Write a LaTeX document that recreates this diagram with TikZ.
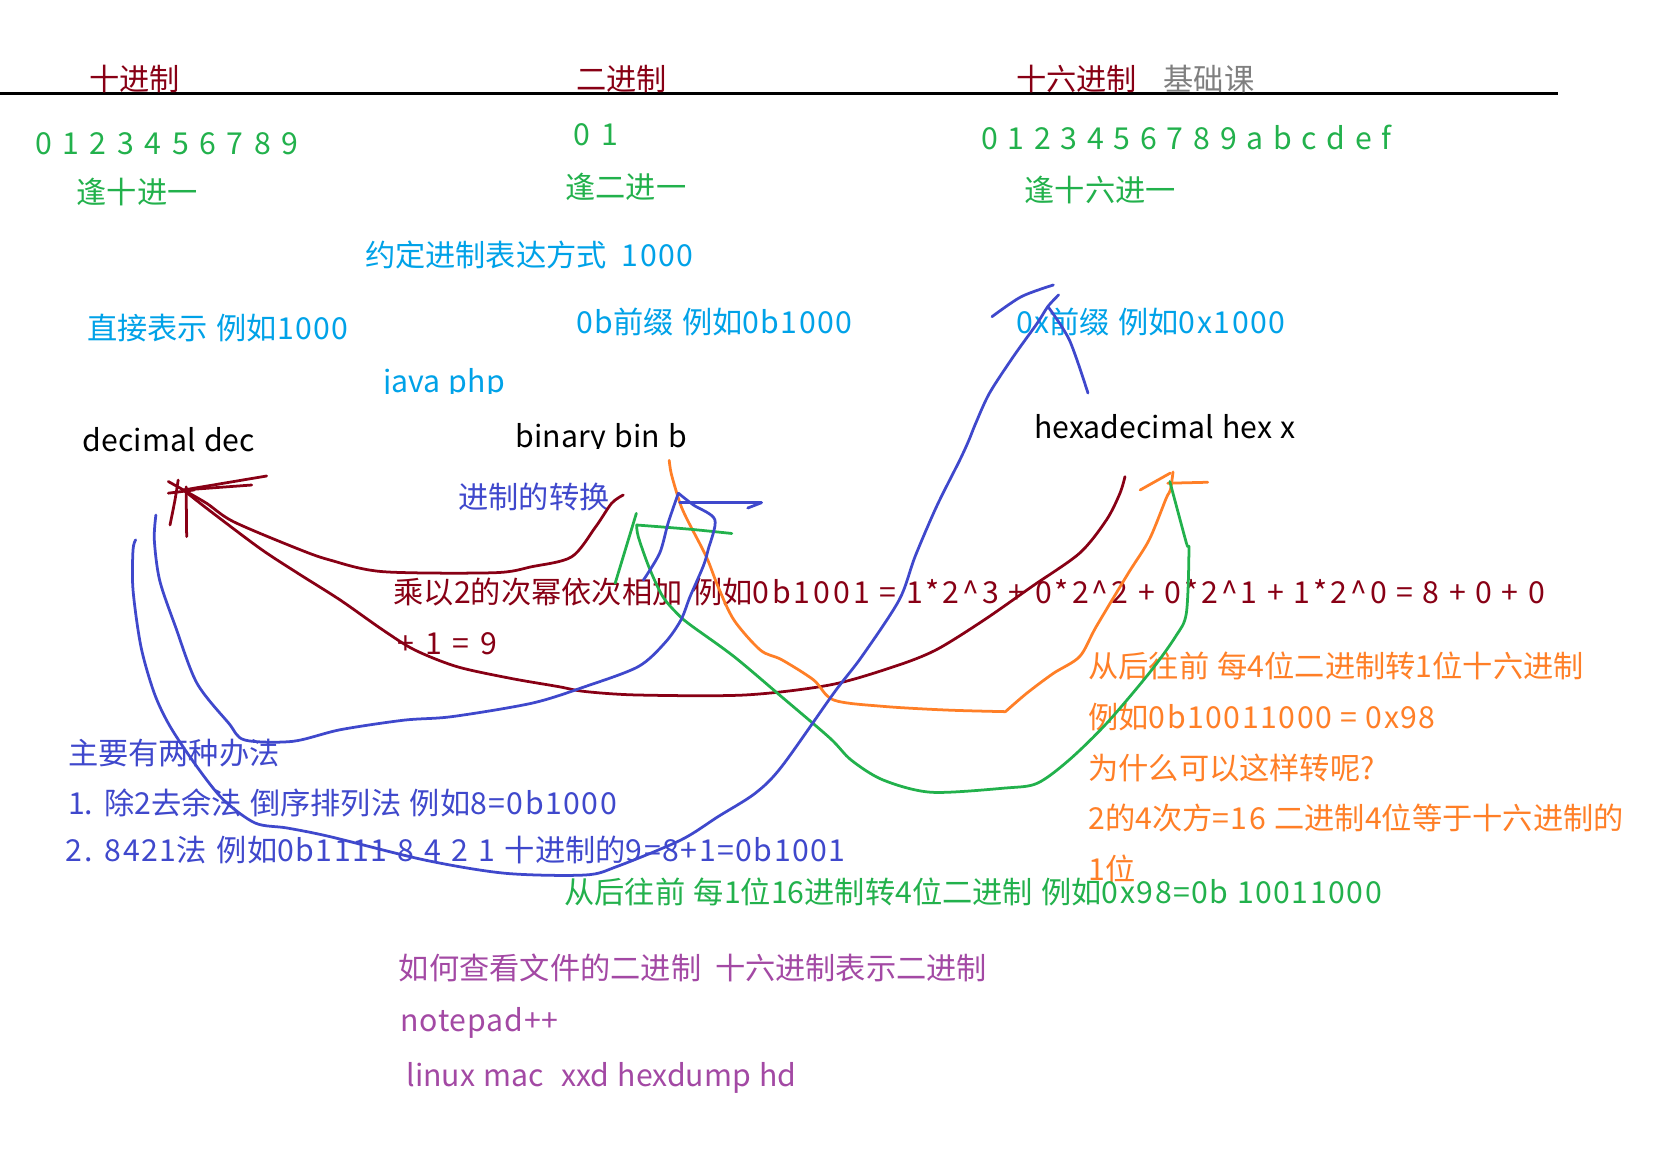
\documentclass[tikz,border=0pt]{standalone}
\usepackage{fontspec}
\setmainfont{Noto Sans CJK SC}
\definecolor{dred}{HTML}{880015}
\definecolor{gry}{HTML}{7F7F7F}
\definecolor{grn}{HTML}{22B14C}
\definecolor{cyn}{HTML}{00A2E8}
\definecolor{ind}{HTML}{3F48CC}
\definecolor{org}{HTML}{FF7F27}
\definecolor{pur}{HTML}{A349A4}
\newcommand\fsz{\fontsize{28.5}{34}\selectfont\spaceskip=8pt\relax}
\newcommand\dg[1]{{\addfontfeature{LetterSpace=5}#1}}
\newcommand\dgw[1]{{\addfontfeature{LetterSpace=10}#1}}
\tikzset{
  txt/.style={anchor=base west, inner sep=0pt, font=\fsz},
  stroke/.style={line width=2.6pt, line cap=round, line join=round},
}
\begin{document}
\begin{tikzpicture}[x=1pt,y=-1pt]
\useasboundingbox[fill=white] (0,0) rectangle (1568,1087);
% header
\coordinate (hl) at (0,88);
\coordinate (hr) at (1469,88);
\draw[line width=2.6pt] (hl) -- (hr);
\node[txt,dred] (h10) at (84,85.5) {十进制};
\node[txt,dred] (h2) at (543,85.5) {二进制};
\node[txt,dred] (h16) at (958,85.5) {十六进制};
\node[txt,gry] (hbase) at (1097,85.5) {基础课};
% green digits
\node[txt,grn] (d10) at (33,146) {\spaceskip=10pt 0 1 2 3 4 5 6 7 8 9};
\node[txt,grn] (r10) at (72,192) {逢十进一};
\node[txt,grn] (d2) at (541,137.5) {\spaceskip=10pt 0 1};
\node[txt,grn] (r2) at (533,187) {逢二进一};
\node[txt,grn] (d16) at (925,141) {\spaceskip=9.2pt 0 1 2 3 4 5 6 7 8 9 a b c d e f};
\node[txt,grn] (r16) at (966,190) {逢十六进一};
% cyan
\node[txt,cyn] (conv) at (344,251) {约定进制表达方式\hspace{14pt}\dg{1000}};
\node[txt,cyn] (dir) at (82,320) {直接表示 例如\dg{1000}};
\node[txt,cyn] (pb) at (543,314.5) {\dg{0b}前缀 例如\dg{0b1000}};
\node[txt,cyn] (px) at (958,314.5) {\dg{0x}前缀 例如\dg{0x1000}};
\begin{scope}
\clip (300,330) rectangle (560,371);
\node[txt,cyn] (jp) at (361,370) {java php};
\end{scope}
% black names
\node[txt] (dec) at (78,426) {decimal dec};
\begin{scope}
\clip (470,380) rectangle (700,423);
\node[txt] (bin) at (486,422) {binary bin b};
\end{scope}
\node[txt] (hex) at (975,413) {hexadecimal hex x};
% indigo
\node[txt,ind] (cv) at (432,479) {进制的转换};
\node[txt,ind] (m0) at (64,721) {主要有两种办法};
\node[txt,ind] (m1) at (64,768) {1. 除2去余法 倒序排列法 例如\dg{8=0b1000}};
\node[txt,ind] (m2) at (62,812) {\spaceskip=9.5pt\dg{2.} \dg{8421}法 例如\dg{0b1111} \dg{8} \dg{4} \dg{2} \dg{1} 十进制的\dg{9=8+1=0b1001}};
% dark red
\node[txt,dred] (mul1) at (371,569) {\spaceskip=9pt 乘以2的次幂依次相加 例如\dgw{0b1001 = 1*2\^{}3 + 0*2\^{}2 + 0*2\^{}1 + 1*2\^{}0 = 8 + 0 + 0}};
\node[txt,dred] (mul2) at (375,617) {\spaceskip=10pt\dgw{+ 1 = 9}};
% orange
\node[txt,org] (o1) at (1026,639) {从后往前 每4位二进制转1位十六进制};
\node[txt,org] (o2) at (1026,687) {例如\dg{0b10011000 = 0x98}};
\node[txt,org] (o3) at (1026,735) {为什么可以这样转呢?};
\node[txt,org] (o4) at (1026,782.5) {\dg{2}的\dg{4}次方\dg{=16} 二进制\dg{4}位等于十六进制的};
\node[txt,org] (o5) at (1026,830) {1位};
% green bottom
\node[txt,grn] (g1) at (532,852) {从后往前 每1位16进制转4位二进制 例如\dg{0x98=0b 10011000}};
% purple
\node[txt,pur] (p1) at (376,924) {如何查看文件的二进制\hspace{13pt}十六进制表示二进制};
\node[txt,pur] (p2) at (377,972.7) {\addfontfeature{LetterSpace=3}notepad++};
\node[txt,pur] (p3) at (383,1024.6) {linux mac\hspace{16pt}xxd hexdump hd};

% ---------- strokes ----------
% dark red
\coordinate (dx) at (173,462);
\draw[stroke,dred] (158.7,454) -- (dx) -- (251.4,448.8);
\draw[stroke,dred] (dx) -- (237.3,457.3);
\draw[stroke,dred] (175.5,459) -- (176,506);
\draw[stroke,dred] plot[smooth,tension=0.5] coordinates {(168,452.6) (165,471.4) (160.3,495)};
\draw[stroke,dred] (158.7,465) -- (183,462);
\draw[stroke,dred] plot[smooth,tension=0.5] coordinates {(173,462) (194.9,474.6) (220,491.8) (279.7,517) (311,528) (361,539) (466,540) (501.5,534.3) (539,525) (561.7,496.6) (576.7,474.5) (587.7,466.7)};
\draw[stroke,dred] plot[smooth,tension=0.5] coordinates {(173,462) (194.9,479.3) (245,517) (281,540.6) (320.7,565.7) (361,594) (391,612.8) (431,628.6) (481.5,639.6) (526.6,647.4) (551.6,652) (601.7,655.3) (702,655.3) (782.6,645.8) (842.7,628.6) (882.5,612.8) (927.8,584.6) (973,553) (1018,521.5) (1043.4,490) (1056,465) (1060.7,449.4)};
% orange
\draw[stroke,org] plot[smooth,tension=0.5] coordinates {(631,434) (633,447) (641,474) (648,490) (666,525) (677,553) (692,584.6) (717,613) (737,622) (767,641) (786,660) (832.6,666) (893,669.5) (948,671)};
\draw[stroke,org] plot[smooth,tension=0.5] coordinates {(948,671) (968,653.7) (993,635) (1018,619) (1033.5,591) (1063.8,540.5) (1083.5,509) (1099.5,470) (1103.5,462) (1106,445)};
\draw[stroke,org] (1075,462) -- (1103.5,446);
\draw[stroke,org] (1101,455.6) -- (1138.7,454.7);
% green
\draw[stroke,grn] (600,484) -- (580,550);
\draw[stroke,grn] plot[smooth,tension=0.5] coordinates {(600.3,495) (650.6,499) (690,503)};
\draw[stroke,grn] plot[smooth,tension=0.5] coordinates {(600.3,495) (601.8,506) (612,535) (625,562.6) (640,580) (652,590) (692,619) (737,657) (782.6,696) (802.5,716.6) (832.6,735.4) (878,747) (948,743) (978,738.5) (1008,716.6) (1043.4,682) (1083.5,634.7) (1108.5,600) (1118.6,578) (1121,518.6) (1118.6,512) (1103,454)};
% indigo
\draw[stroke,ind] plot[smooth,tension=0.5] coordinates {(127.9,509) (125.4,518.6) (125.4,556) (132.9,609.7) (145.5,653.7) (160.4,685) (185.6,722.8) (210.6,754) (240.6,776) (270.8,780.7) (311,788.8) (401,811) (476.5,823.4) (551.7,825) (581.7,817) (642,792) (677,770) (712,748) (737,722.8) (786,653.7) (812.6,619) (847.8,565.7) (862.7,525) (883,477.7) (905,433.7) (913.6,414.9) (920,399) (933,370.6) (955.6,336) (978,304.7) (988,289) (998.2,278)};
\draw[stroke,ind] plot[smooth,tension=0.5] coordinates {(935.3,298.6) (963,279.7) (993.2,268.7)};
\draw[stroke,ind] plot[smooth,tension=0.5] coordinates {(988,289) (1008.3,320.6) (1025.8,370.6)};
\draw[stroke,ind] plot[smooth,tension=0.5] coordinates {(147,485.6) (145.5,509) (150.5,547) (165.5,591) (185.6,644) (215.6,681.8) (230.7,697.7) (275.9,699) (321,688) (381,679) (426,675.7) (501.6,663) (551.6,647.4) (601.7,628.6) (627,606) (642,584.6) (650.6,562.6) (663,534) (667.6,518.6) (674,490) (653.6,476) (639.6,465)};
\draw[stroke,ind] plot[smooth,tension=0.5] coordinates {(639.6,465) (630,493) (622,521.5) (606.6,547)};
\draw[stroke,ind] (641,474) -- (718,474);
\draw[stroke,ind] (705,479) -- (718,474);
\end{tikzpicture}
\end{document}
